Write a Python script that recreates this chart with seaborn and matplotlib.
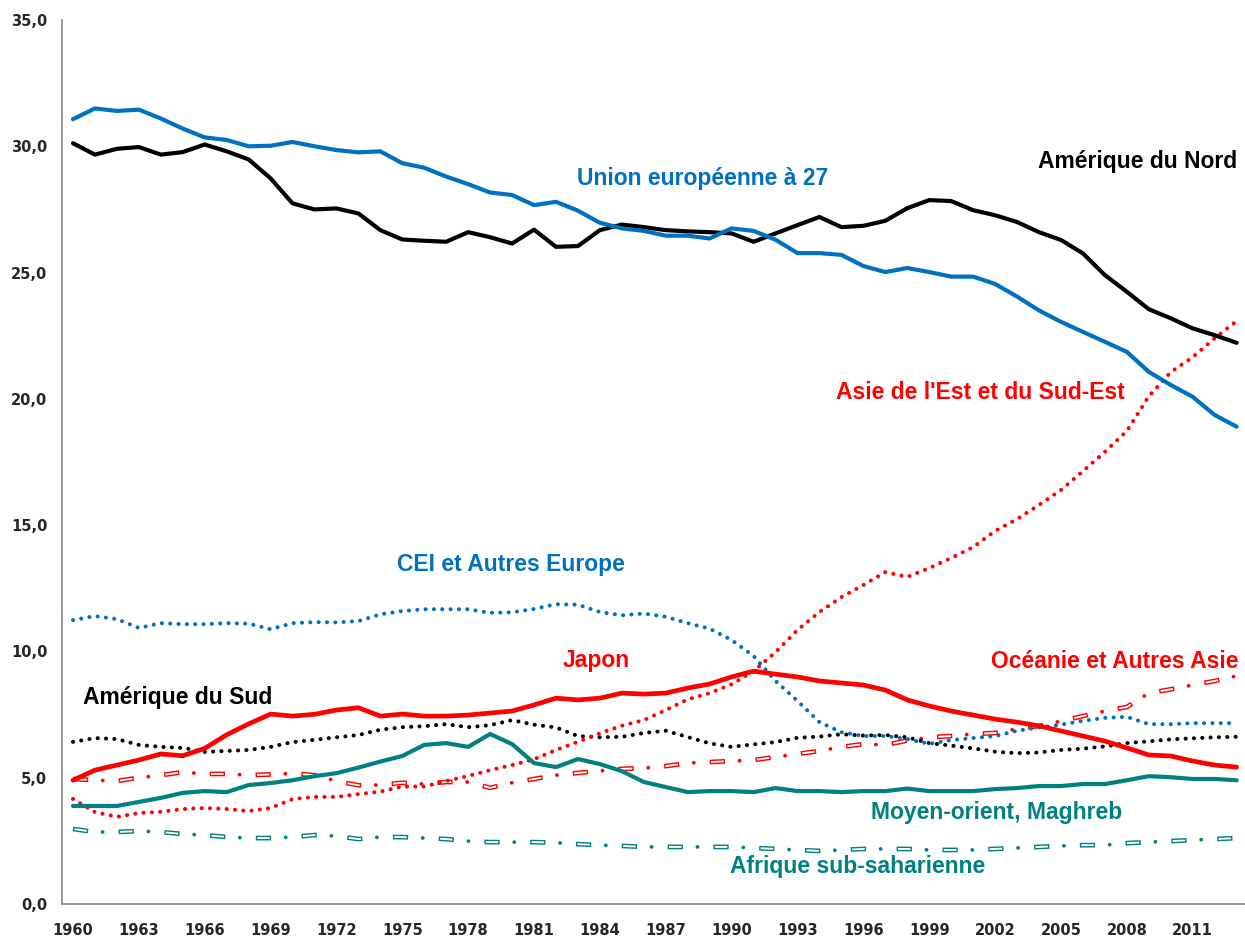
import matplotlib
matplotlib.use("Agg")
import matplotlib.pyplot as plt
import seaborn as sns
import pandas as pd
from matplotlib.ticker import FixedLocator, FuncFormatter

# 1. DATA
years = list(range(1960, 2014))

union_europeenne = [31.07, 31.5, 31.4, 31.45, 31.1, 30.7, 30.35, 30.25, 30.0, 30.02,
                    30.17, 30.0, 29.85, 29.76, 29.8, 29.33, 29.15, 28.8, 28.5, 28.17,
                    28.07, 27.67, 27.8, 27.45, 26.97, 26.75, 26.65, 26.46, 26.46, 26.35,
                    26.75, 26.65, 26.3, 25.77, 25.77, 25.7, 25.26, 25.02, 25.18, 25.02,
                    24.84, 24.84, 24.55, 24.05, 23.5, 23.05, 22.65, 22.26, 21.86, 21.07,
                    20.55, 20.08, 19.36, 18.9]
amerique_nord = [30.12, 29.67, 29.9, 29.97, 29.67, 29.77, 30.07, 29.8, 29.48, 28.73,
                 27.74, 27.5, 27.54, 27.34, 26.68, 26.31, 26.26, 26.22, 26.6, 26.4,
                 26.15, 26.7, 26.02, 26.05, 26.68, 26.9, 26.8, 26.68, 26.63, 26.6,
                 26.55, 26.22, 26.55, 26.88, 27.2, 26.8, 26.85, 27.05, 27.55, 27.87,
                 27.83, 27.47, 27.27, 27.0, 26.6, 26.29, 25.76, 24.9, 24.24, 23.55,
                 23.19, 22.79, 22.52, 22.22]
asie_est = [4.16, 3.64, 3.45, 3.6, 3.65, 3.76, 3.8, 3.76, 3.68, 3.8,
            4.15, 4.24, 4.24, 4.35, 4.45, 4.65, 4.65, 4.87, 5.07, 5.3,
            5.5, 5.73, 6.1, 6.42, 6.76, 7.06, 7.28, 7.68, 8.1, 8.35,
            8.7, 9.22, 9.97, 10.85, 11.56, 12.15, 12.63, 13.14, 12.95, 13.3,
            13.7, 14.13, 14.77, 15.24, 15.8, 16.39, 17.14, 17.9, 18.73, 20.1,
            21.06, 21.65, 22.4, 23.08]
cei_europe = [11.24, 11.4, 11.28, 10.93, 11.12, 11.08, 11.08, 11.12, 11.1, 10.88,
              11.12, 11.16, 11.15, 11.2, 11.47, 11.6, 11.67, 11.67, 11.67, 11.53,
              11.55, 11.68, 11.87, 11.85, 11.56, 11.43, 11.5, 11.37, 11.12, 10.9,
              10.45, 9.82, 8.83, 8.04, 7.2, 6.8, 6.65, 6.65, 6.53, 6.34,
              6.49, 6.57, 6.65, 6.86, 6.99, 7.1, 7.25, 7.37, 7.41, 7.12,
              7.12, 7.16, 7.16, 7.16]
japon = [4.9, 5.3, 5.5, 5.7, 5.94, 5.87, 6.16, 6.7, 7.13, 7.52,
         7.44, 7.51, 7.68, 7.77, 7.44, 7.52, 7.44, 7.44, 7.48, 7.56,
         7.64, 7.88, 8.15, 8.08, 8.15, 8.35, 8.31, 8.35, 8.55, 8.71,
         8.99, 9.22, 9.1, 8.99, 8.83, 8.75, 8.67, 8.47, 8.08, 7.84,
         7.64, 7.48, 7.32, 7.2, 7.05, 6.85, 6.65, 6.45, 6.18, 5.9,
         5.86, 5.66, 5.5, 5.42]
amerique_sud = [6.42, 6.57, 6.53, 6.3, 6.22, 6.18, 6.02, 6.06, 6.1, 6.22,
                6.41, 6.5, 6.6, 6.69, 6.9, 7.0, 7.04, 7.12, 7.0, 7.08,
                7.28, 7.1, 6.99, 6.65, 6.6, 6.62, 6.77, 6.86, 6.61, 6.36,
                6.22, 6.32, 6.41, 6.58, 6.63, 6.72, 6.67, 6.69, 6.6, 6.37,
                6.27, 6.16, 6.03, 5.97, 6.0, 6.1, 6.15, 6.24, 6.37, 6.44,
                6.52, 6.56, 6.6, 6.62]
oceanie_asie = [4.95, 4.9, 4.87, 5.0, 5.1, 5.22, 5.15, 5.15, 5.1, 5.13,
                5.17, 5.1, 4.87, 4.7, 4.71, 4.8, 4.75, 4.83, 4.83, 4.6,
                4.8, 4.95, 5.1, 5.19, 5.27, 5.35, 5.38, 5.46, 5.58, 5.62,
                5.66, 5.7, 5.82, 5.94, 6.06, 6.22, 6.33, 6.3, 6.47, 6.6,
                6.65, 6.73, 6.77, 6.93, 7.05, 7.24, 7.44, 7.64, 7.8, 8.35,
                8.5, 8.67, 8.83, 9.03]
moyen_orient = [3.88, 3.88, 3.88, 4.04, 4.2, 4.4, 4.47, 4.43, 4.71, 4.79,
                4.9, 5.06, 5.18, 5.4, 5.64, 5.86, 6.3, 6.37, 6.22, 6.73,
                6.33, 5.58, 5.42, 5.74, 5.54, 5.26, 4.83, 4.63, 4.43, 4.47,
                4.47, 4.43, 4.59, 4.47, 4.47, 4.43, 4.47, 4.47, 4.57, 4.47,
                4.47, 4.47, 4.55, 4.59, 4.67, 4.67, 4.75, 4.75, 4.9, 5.06,
                5.02, 4.95, 4.95, 4.9]
afrique = [2.97, 2.85, 2.85, 2.89, 2.85, 2.77, 2.73, 2.65, 2.61, 2.61,
           2.65, 2.73, 2.69, 2.57, 2.65, 2.65, 2.61, 2.57, 2.49, 2.45,
           2.45, 2.45, 2.43, 2.37, 2.33, 2.3, 2.26, 2.26, 2.26, 2.26,
           2.26, 2.22, 2.18, 2.14, 2.1, 2.14, 2.18, 2.18, 2.18, 2.14,
           2.14, 2.14, 2.18, 2.22, 2.26, 2.3, 2.33, 2.33, 2.41, 2.45,
           2.49, 2.53, 2.57, 2.61]

year_labels = [str(y) for y in range(1960, 2012, 3)]
y_ticks = [0, 5, 10, 15, 20, 25, 30, 35]

BLUE = "#0070C0"
RED = "#FF0000"
TEAL = "#008080"
GREY = "#868686"

# 2. STYLE
sns.set_style("white")
plt.rcParams["font.family"] = ["DejaVu Sans"]
plt.rcParams["lines.scale_dashes"] = False

fig = plt.figure(figsize=(12.45, 9.41), dpi=100)
ax = fig.add_axes([62 / 1245, 1 - 904 / 941, 1185.6 / 1245, 884 / 941])

dotted = (0, (0.1, 5.9))
dash_outer = (0, (11, 22))        # tirets du trait mixte
dash_inner = (32, (9, 24))        # interieur blanc des tirets
dash_dot = (11.55, (0.1, 32.9))   # point entre deux tirets


def draw(values, color, kind, lw=3.0):
    if kind == "solid":
        sns.lineplot(x=years, y=values, ax=ax, color=color, lw=lw,
                     solid_capstyle="round", solid_joinstyle="round")
    elif kind == "dot":
        sns.lineplot(x=years, y=values, ax=ax, color=color, lw=lw,
                     linestyle=dotted, dash_capstyle="round")
    else:
        # trait mixte "double" : contour couleur, interieur blanc, point plein
        sns.lineplot(x=years, y=values, ax=ax, color=color, lw=lw,
                     linestyle=dash_outer, dash_capstyle="butt")
        sns.lineplot(x=years, y=values, ax=ax, color="white", lw=lw * 0.4,
                     linestyle=dash_inner, dash_capstyle="butt")
        sns.lineplot(x=years, y=values, ax=ax, color=color, lw=lw * 0.8,
                     linestyle=dash_dot, dash_capstyle="round")


draw(afrique, TEAL, "dashdot", 3.4)
draw(oceanie_asie, RED, "dashdot", 3.4)
draw(amerique_sud, "black", "dot", 2.9)
draw(cei_europe, BLUE, "dot", 2.9)
draw(asie_est, RED, "dot", 2.9)
draw(moyen_orient, TEAL, "solid", 3.0)
draw(japon, RED, "solid", 3.4)
draw(amerique_nord, "black", "solid", 3.0)
draw(union_europeenne, BLUE, "solid", 3.0)

# 3. AXES
ax.set_xlim(1959.5, 2013.5)
ax.set_ylim(0, 35)
ax.set_xlabel("")
ax.set_ylabel("")
for s in ["top", "right"]:
    ax.spines[s].set_visible(False)
for s in ["left", "bottom"]:
    ax.spines[s].set_color(GREY)
    ax.spines[s].set_linewidth(1.2)

ax.yaxis.set_major_locator(FixedLocator(y_ticks))
ax.yaxis.set_major_formatter(FuncFormatter(lambda v, p: f"{v:.1f}".replace(".", ",")))
ax.tick_params(axis="y", direction="out", length=4, width=1.2, color=GREY, pad=6.5,
               labelsize=10.5)

# traits aux limites de categories, libelles au centre
ax.xaxis.set_major_locator(FixedLocator([y - 0.5 for y in range(1960, 2012, 3)]))
ax.xaxis.set_major_formatter(FuncFormatter(lambda v, p: ""))
ax.xaxis.set_minor_locator(FixedLocator([int(l) for l in year_labels]))
ax.set_xticklabels(year_labels, minor=True)
ax.tick_params(axis="x", which="major", direction="out", length=5, width=1.2, color=GREY)
ax.tick_params(axis="x", which="minor", length=0, pad=14, labelsize=10.5)
for lab in ax.get_yticklabels() + ax.get_xticklabels(minor=True):
    lab.set_fontweight("bold")

# 4. ETIQUETTES DES SERIES
lab_font = dict(fontsize=16.5, fontweight="bold", family=["Liberation Sans", "DejaVu Sans"],
                va="baseline", ha="center")
ax.text(1988.67, 28.46, "Union européenne à 27", color=BLUE, **lab_font)
ax.text(2008.51, 29.14, "Amérique du Nord", color="black", **lab_font)
ax.text(2001.34, 19.99, "Asie de l'Est et du Sud-Est", color=RED, **lab_font)
ax.text(1979.97, 13.18, "CEI et Autres Europe", color=BLUE, **lab_font)
ax.text(1983.82, 9.38, "Japon", color=RED, **lab_font)
ax.text(2007.46, 9.34, "Océanie et Autres Asie", color=RED, **lab_font)
ax.text(1964.76, 7.92, "Amérique du Sud", color="black", **lab_font)
ax.text(2002.06, 3.36, "Moyen-orient, Maghreb", color=TEAL, **lab_font)
ax.text(1995.76, 1.23, "Afrique sub-saharienne", color=TEAL, **lab_font)

fig.savefig("out.png", dpi=100, facecolor="white")
